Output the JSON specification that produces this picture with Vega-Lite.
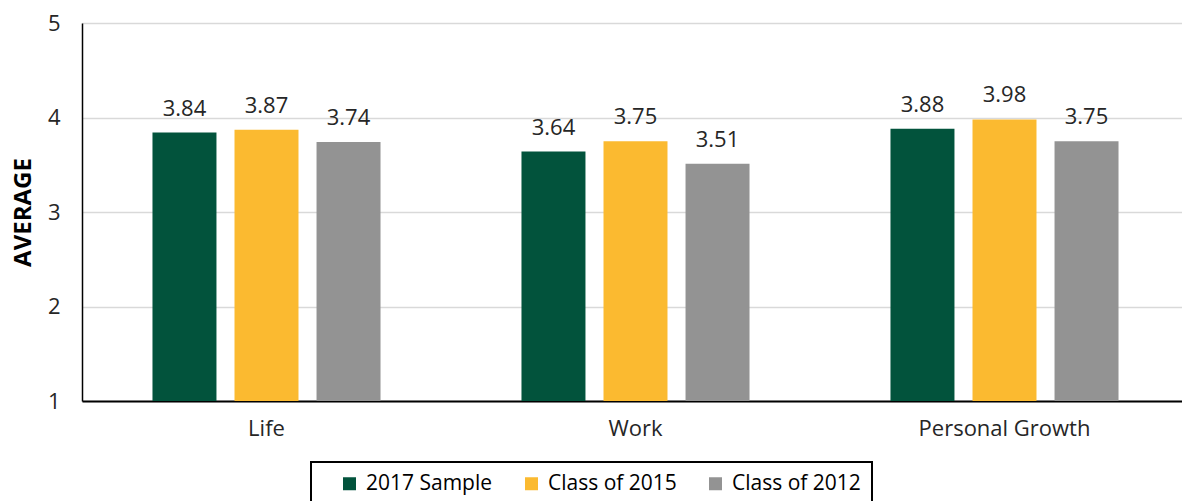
{
  "$schema": "https://vega.github.io/schema/vega-lite/v6.json",
  "autosize": "none",
  "width": 1107,
  "height": 378,
  "padding": {"left": 82, "top": 23, "right": 0, "bottom": 100},
  "background": "white",
  "config": {
    "view": {"stroke": null},
    "font": "Open Sans",
    "text": {"font": "Open Sans"}
  },
  "data": {
    "values": [
      {"category": "Life", "series": "2017 Sample", "value": 3.84},
      {"category": "Life", "series": "Class of 2015", "value": 3.87},
      {"category": "Life", "series": "Class of 2012", "value": 3.74},
      {"category": "Work", "series": "2017 Sample", "value": 3.64},
      {"category": "Work", "series": "Class of 2015", "value": 3.75},
      {"category": "Work", "series": "Class of 2012", "value": 3.51},
      {"category": "Personal Growth", "series": "2017 Sample", "value": 3.88},
      {"category": "Personal Growth", "series": "Class of 2015", "value": 3.98},
      {"category": "Personal Growth", "series": "Class of 2012", "value": 3.75}
    ]
  },
  "encoding": {
    "x": {
      "field": "category",
      "type": "nominal",
      "scale": {"domain": ["Life", "Work", "Personal Growth"], "paddingInner": 0.382, "paddingOuter": 0.191},
      "axis": {
        "title": null,
        "labelAngle": 0,
        "labelFontSize": 22,
        "labelColor": "#262626",
        "labelFont": "Open Sans",
        "labelPadding": 17,
        "ticks": false,
        "domainColor": "#000000",
        "domainWidth": 2
      }
    },
    "xOffset": {
      "field": "series",
      "type": "nominal",
      "scale": {"domain": ["2017 Sample", "Class of 2015", "Class of 2012"], "paddingInner": 0.22}
    },
    "y": {
      "field": "value",
      "type": "quantitative",
      "scale": {"domain": [1, 5], "nice": false, "zero": false},
      "axis": {
        "title": "AVERAGE",
        "titleFontSize": 24,
        "titleFontWeight": "bold",
        "titleFont": "Open Sans",
        "titleColor": "#000000",
        "titlePadding": 12,
        "values": [1, 2, 3, 4, 5],
        "labelFontSize": 22,
        "labelColor": "#262626",
        "labelFont": "Open Sans",
        "labelPadding": 22,
        "ticks": false,
        "domainColor": "#000000",
        "domainWidth": 1.5,
        "gridColor": "#d9d9d9",
        "gridWidth": 1.5
      }
    }
  },
  "layer": [
    {
      "mark": {"type": "bar"},
      "encoding": {
        "y2": {"datum": 1},
        "color": {
          "field": "series",
          "type": "nominal",
          "scale": {
            "domain": ["2017 Sample", "Class of 2015", "Class of 2012"],
            "range": ["#02533C", "#FBBA30", "#939393"]
          },
          "legend": {
            "title": null,
            "orient": "none",
            "direction": "horizontal",
            "legendX": 229,
            "legendY": 439,
            "symbolType": "square",
            "symbolSize": 169,
            "symbolStrokeWidth": 0,
            "symbolOffset": 17,
            "labelFontSize": 21,
            "labelFont": "Open Sans",
            "labelColor": "#000000",
            "labelOffset": 6,
            "columnPadding": 11,
            "padding": 11,
            "strokeColor": "#000000",
            "fillColor": "white",
            "encode": {"legend": {"update": {"strokeWidth": {"value": 2}}}}
          }
        }
      }
    },
    {
      "mark": {
        "type": "text",
        "baseline": "alphabetic",
        "dy": -17,
        "fontSize": 22,
        "font": "Open Sans",
        "color": "#262626"
      },
      "encoding": {
        "text": {"field": "value", "type": "quantitative", "format": ".2f"}
      }
    }
  ]
}
